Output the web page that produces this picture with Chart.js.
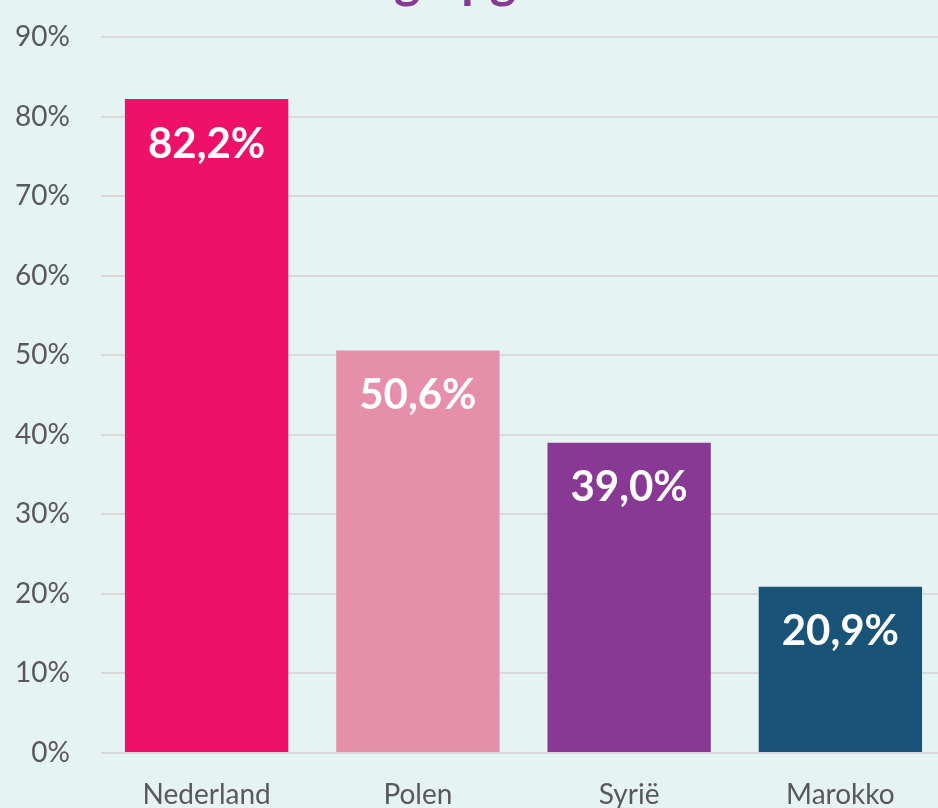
<!DOCTYPE html>
<html>
<head>
<meta charset="utf-8">
<script src="https://cdn.jsdelivr.net/npm/chart.js@4.4.0/dist/chart.umd.min.js"></script>
<style>
  html, body { margin: 0; padding: 0; overflow: hidden; background: #e6f3f3; }
  body { width: 938px; height: 808px; position: relative; }
  #title {
    position: absolute; left: 16px; width: 938px; top: -46px;
    text-align: center; white-space: nowrap;
    font: bold 50px Lato, sans-serif; line-height: 50px; color: #873993;
  }
  #wrap { position: absolute; left: 0; top: 0; width: 946px; height: 808px; }
</style>
</head>
<body>
<div id="title">Aandeel hoog opgeleide vrouwen</div>
<div id="wrap"><canvas id="chart"></canvas></div>
<script>
// Share per country of origin (percent)
const countries = ['Nederland', 'Polen', 'Syrië', 'Marokko'];
const shares = [82.2, 50.6, 39.0, 20.9];
const barColors = ['#ee1169', '#e58faa', '#873993', '#195478'];
const yTicks = [0, 10, 20, 30, 40, 50, 60, 70, 80, 90];

const fmt = v => v.toFixed(1).replace('.', ',') + '%';

// White value labels inside the top of each bar
const valueLabels = {
  id: 'valueLabels',
  afterDatasetsDraw(chart) {
    const ctx = chart.ctx;
    const meta = chart.getDatasetMeta(0);
    ctx.save();
    ctx.fillStyle = '#ffffff';
    ctx.font = 'bold 42px Lato, sans-serif';
    ctx.textAlign = 'center';
    ctx.textBaseline = 'middle';
    meta.data.forEach((bar, i) => {
      ctx.fillText(fmt(shares[i]), bar.x, bar.y + 45);
    });
    ctx.restore();
  }
};

new Chart(document.getElementById('chart'), {
  type: 'bar',
  data: {
    labels: countries,
    datasets: [{
      data: shares,
      backgroundColor: barColors,
      borderWidth: 0,
      categoryPercentage: 1,
      barPercentage: 0.773
    }]
  },
  options: {
    responsive: true,
    maintainAspectRatio: false,
    animation: false,
    layout: { padding: { top: 37, right: 0, bottom: 0, left: 0 } },
    plugins: { legend: { display: false }, tooltip: { enabled: false } },
    scales: {
      x: {
        grid: { display: false, drawTicks: false },
        border: { display: false },
        ticks: { color: '#595959', font: { family: 'Lato', size: 28 }, padding: 25 },
        afterFit: s => { s.height = 55; }
      },
      y: {
        min: 0,
        max: 90,
        afterBuildTicks: s => { s.ticks = yTicks.map(v => ({ value: v })); },
        grid: { color: '#d9d9d9', lineWidth: 2, drawTicks: false },
        border: { display: false },
        ticks: {
          color: '#595959',
          font: { family: 'Lato', size: 28 },
          padding: 31,
          callback: v => v + '%'
        },
        afterFit: s => { s.width = 101; s.paddingTop = 0; s.paddingBottom = 0; }
      }
    }
  },
  plugins: [valueLabels]
});
</script>
</body>
</html>
